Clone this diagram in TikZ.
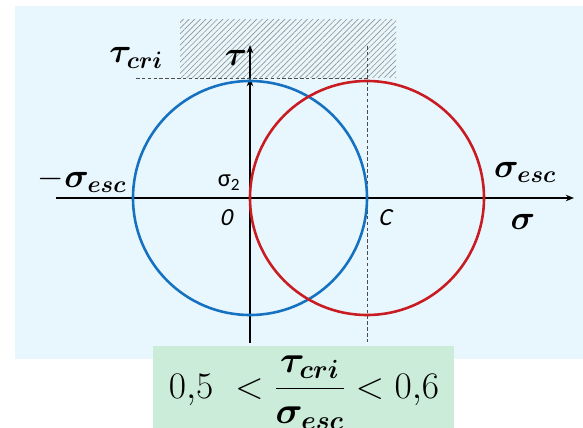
\RequirePackage{fix-cm}
\documentclass[tikz,border=0pt]{standalone}
\usepackage{amsmath,bm}
\usepackage{fontspec}
\newfontfamily\calfont{Carlito}
\newfontfamily\calit{Carlito}[FakeSlant=0.2]
\usetikzlibrary{arrows.meta,patterns.meta}

\definecolor{fondo}{RGB}{232,247,253}
\definecolor{verde}{RGB}{202,236,216}
\definecolor{azul}{RGB}{22,114,192}
\definecolor{rojo}{RGB}{200,28,34}

\begin{document}
\begin{tikzpicture}[x=0.03cm, y=-0.03cm, >={Stealth[length=7pt,width=5.5pt]},
    eje/.style={->, line width=1.5pt},
    guia/.style={gray!60!black, line width=0.6pt, dash pattern=on 3pt off 2pt},
    circulo/.style={line width=2.2pt},
    rotulo/.style={inner sep=1pt, font=\fontsize{29}{33}\selectfont},
    rotulopeq/.style={inner sep=1pt, font=\calit\fontsize{21}{24}\selectfont}]
    \useasboundingbox (0,0) rectangle (583,428);
    \fill[fondo] (15,6) rectangle (583,359);
    \fill[verde] (153,346) rectangle (454,428);

    % Puntos de referencia
    \coordinate (O) at (250,198);
    \coordinate (C) at (367,198);
    \coordinate (Xi) at (56,198);
    \coordinate (Xf) at (574,198);
    \coordinate (Yi) at (250,343);
    \coordinate (Ym) at (250,78);
    \coordinate (Yf) at (250,45);
    \coordinate (Ti) at (136,78);
    \coordinate (Tc) at (367,78);
    \coordinate (Vs) at (367,46);
    \coordinate (Vi) at (367,343);

    % Zona rayada
    \fill[pattern={Lines[angle=45, distance=3.4pt, line width=0.55pt]}, pattern color=gray!85]
      (180,20) rectangle (396,78);

    % Lineas auxiliares
    \draw[guia] (Ti) -- (Tc);
    \draw[guia] (Vs) -- (Vi);

    % Ejes
    \draw[eje] (Xi) -- (Xf);
    \draw[eje] (Yi) -- (Ym);
    \draw[eje] (Ym) -- (Yf);

    % Circulos de Mohr
    \draw[azul, circulo] (O) circle[radius=117];
    \draw[rojo, circulo] (C) circle[radius=117];

    % Rotulos
    \node[rotulo] (tcri) at (136,58) {$\bm{\tau}_{\bm{cri}}$};
    \node[rotulo] (tau) at (236,58) {$\bm{\tau}$};
    \node[rotulo] (msesc) at (82,180) {$-\bm{\sigma}_{\bm{esc}}$};
    \node[rotulo] (sesc) at (525,172) {$\bm{\sigma}_{\bm{esc}}$};
    \node[rotulo] (sig) at (523,222) {$\bm{\sigma}$};
    \node[rotulopeq, font=\calfont\fontsize{21}{24}\selectfont] (s2) at (229,183) {σ\textsubscript{2}};
    \node[rotulopeq] (cero) at (226,218) {0};
    \node[rotulopeq] (ce) at (385,218) {C};

    % Relacion
    \node[anchor=base, inner sep=0pt, font=\fontsize{32}{38}\selectfont] (rel) at (304,398)
      {$0{,}5\ <\dfrac{\bm{\tau}_{\bm{cri}}}{\bm{\sigma}_{\bm{esc}}}< 0{,}6$};
\end{tikzpicture}
\end{document}
